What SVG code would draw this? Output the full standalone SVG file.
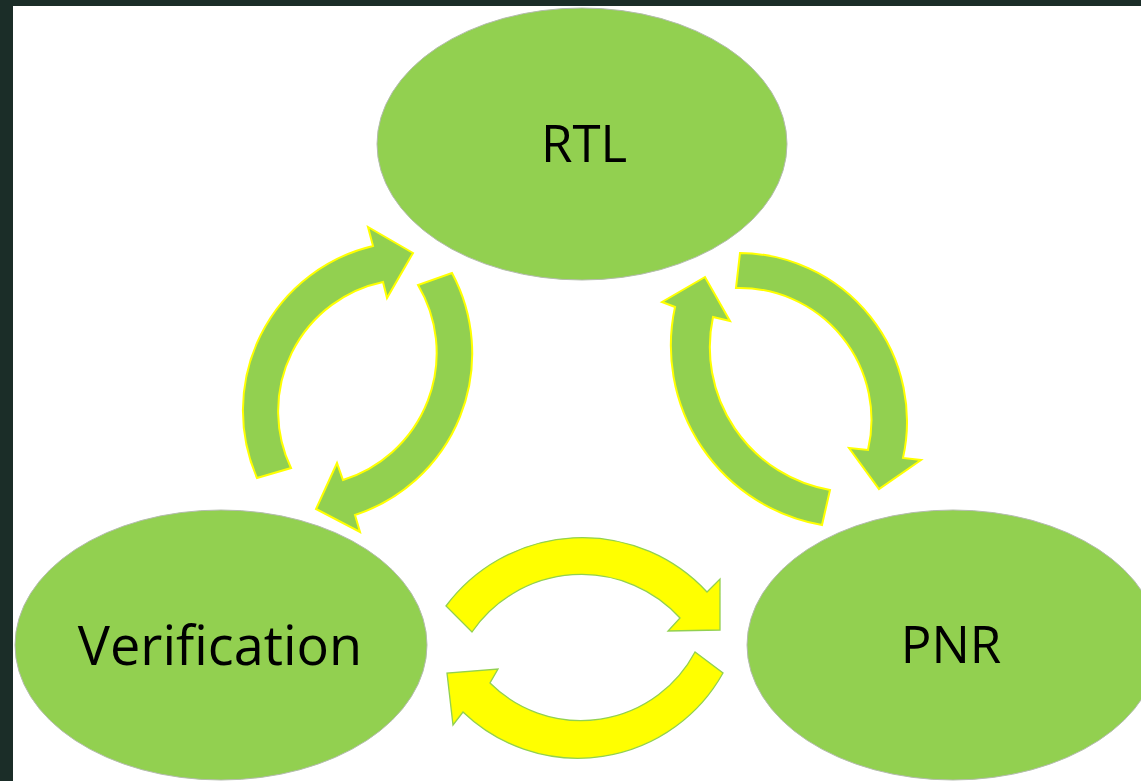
<svg xmlns="http://www.w3.org/2000/svg" width="1141" height="781" viewBox="0 0 1141 781">
<style>
.node{fill:#92d050;stroke:#b4bcae;stroke-width:1}
.lbl{font-family:"Open Sans","Noto Sans",sans-serif;fill:#000;text-anchor:middle}
.ga{fill:#92d050;stroke:#ffff00;stroke-width:2;stroke-linejoin:miter}
.ya{fill:#ffff00;stroke:#92d050;stroke-width:1.3;stroke-linejoin:miter}
</style>
<rect x="0" y="0" width="1141" height="781" fill="#1b2d28"/>
<rect x="13" y="6" width="1128" height="775" fill="#ffffff"/>
<g id="node-rtl">
<ellipse class="node" cx="582" cy="144" rx="205" ry="136"/>
<text class="lbl" x="584" y="162" font-size="51">RTL</text>
</g>
<g id="node-verification">
<ellipse class="node" cx="221" cy="645" rx="206" ry="135"/>
<text class="lbl" x="220" y="665" font-size="54">Verification</text>
</g>
<g id="node-pnr">
<ellipse class="node" cx="953" cy="645" rx="206" ry="135"/>
<text class="lbl" x="951" y="663" font-size="51">PNR</text>
</g>
<g id="connectors">
<path class="ga" d="M257 478 A169 169 0 0 1 373 246 L368 227 L413 253 L387 298 L383 282 A132 132 0 0 0 291 468 Z"/>
<path class="ga" d="M452 273 A170 170 0 0 1 355 515 L360 532 L316 509 L337 463 L343 480 A133 133 0 0 0 418 285 Z"/>
<path class="ga" d="M822 525 A182 182 0 0 1 675 307 L662 302 L705 277 L730 321 L713 317 A145 145 0 0 0 830 490 Z"/>
<path class="ga" d="M740 253 A168.5 168.5 0 0 1 903 458 L921 460 L879 489 L849 448 L868 450 A132 132 0 0 0 736 288 Z"/>
<path class="ya" d="M446 606 A170 170 0 0 1 707 592 L720 579 L720 630 L668 631 L680 618 A133 133 0 0 0 472 632 Z"/>
<path class="ya" d="M723 673 A166 166 0 0 1 463 712 L453 725 L447 673 L498 669 L490 683 A129 129 0 0 0 695 652 Z"/>
</g>
</svg>
